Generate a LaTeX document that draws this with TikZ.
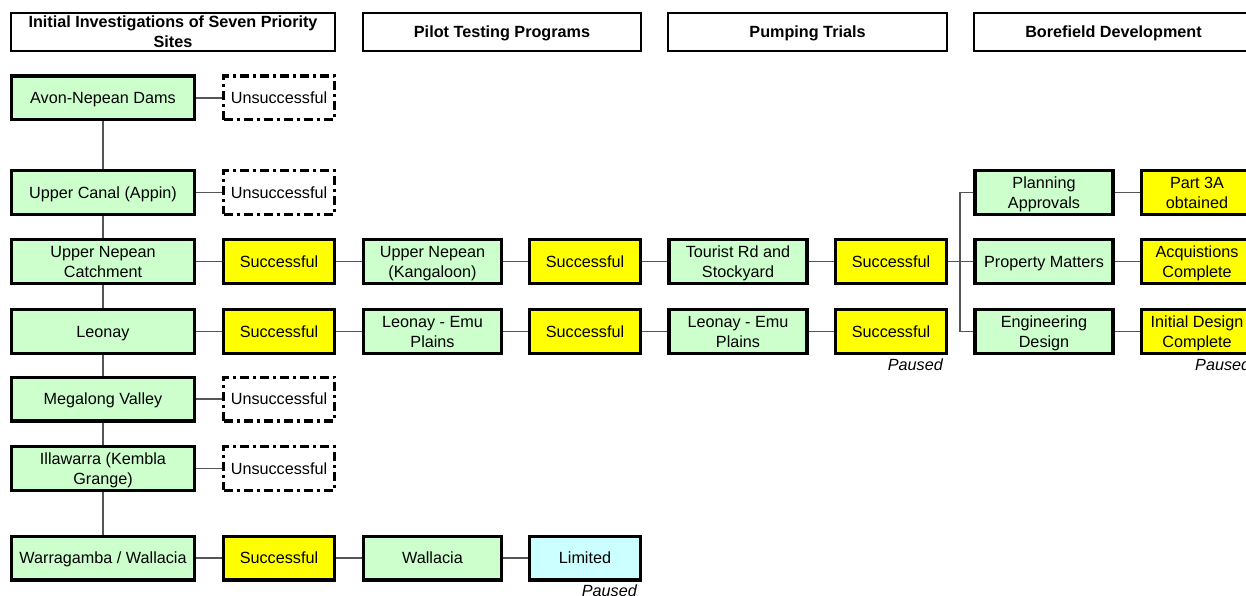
\documentclass[tikz,border=0pt]{standalone}
\usepackage{fontspec}
\setmainfont{Liberation Sans}
\definecolor{site_green}{RGB}{204, 255, 204}
\definecolor{ok_yellow}{RGB}{255, 255, 0}
\definecolor{lim_cyan}{RGB}{204, 255, 255}
\definecolor{link_grey}{RGB}{85, 85, 85}
\tikzstyle{box}=[rectangle,draw=black,line width=3.4pt,align=center,inner sep=2pt,
  font=\fontsize{16.2}{20}\selectfont,text depth=0pt,minimum height=43.6pt]
\tikzstyle{site}=[box,fill=site_green,minimum width=138pt]
\tikzstyle{wide}=[site,minimum width=182.6pt]
\tikzstyle{ok}=[box,fill=ok_yellow,minimum width=110.6pt]
\tikzstyle{lim}=[box,fill=lim_cyan,minimum width=110.6pt]
\tikzstyle{fail}=[box,fill=white,dash pattern=on 9pt off 4pt on 3pt off 4pt,
  minimum width=110.6pt]
\tikzstyle{hdr}=[rectangle,draw=black,line width=1.6pt,align=center,text depth=0pt,
  font=\bfseries\fontsize{16.2}{20}\selectfont,minimum height=38.4pt]
\tikzstyle{paused}=[font=\itshape\fontsize{16.2}{18}\selectfont,inner sep=0pt]
\tikzstyle{link}=[draw=link_grey,line width=1.1pt]

\begin{document}
\begin{tikzpicture}[x=1pt,y=-1pt]
    \useasboundingbox (0,0) rectangle (1246,596);
    % stage headings
    \node [style=hdr,minimum width=324.4pt] (h1) at (173,32) {Initial Investigations of Seven Priority\\Sites};
    \node [style=hdr,minimum width=278.4pt] (h2) at (502,32) {Pilot Testing Programs};
    \node [style=hdr,minimum width=279.4pt] (h3) at (807.5,32) {Pumping Trials};
    \node [style=hdr,minimum width=279.4pt] (h4) at (1113.5,32) {Borefield Development};
    % priority sites
    \node [style=wide] (avon) at (103,98) {Avon-Nepean Dams};
    \node [style=wide] (appin) at (103,192.5) {Upper Canal (Appin)};
    \node [style=wide] (upn) at (103,261.5) {Upper Nepean\\Catchment};
    \node [style=wide] (leo) at (103,331.5) {Leonay};
    \node [style=wide] (mega) at (103,399) {Megalong Valley};
    \node [style=wide] (illa) at (103,468.5) {Illawarra (Kembla\\Grange)};
    \node [style=wide] (warr) at (103,558) {Warragamba / Wallacia};
    % investigation results
    \node [style=fail] (avon1) at (279,98) {Unsuccessful};
    \node [style=fail] (appin1) at (279,192.5) {Unsuccessful};
    \node [style=ok] (upn1) at (279,261.5) {Successful};
    \node [style=ok] (leo1) at (279,331.5) {Successful};
    \node [style=fail] (mega1) at (279,399) {Unsuccessful};
    \node [style=fail] (illa1) at (279,468.5) {Unsuccessful};
    \node [style=ok] (warr1) at (279,558) {Successful};
    % pilot testing
    \node [style=site] (upn2) at (432.5,261.5) {Upper Nepean\\(Kangaloon)};
    \node [style=site] (leo2) at (432.5,331.5) {Leonay - Emu\\Plains};
    \node [style=site] (warr2) at (432.5,558) {Wallacia};
    \node [style=ok] (upn3) at (585,261.5) {Successful};
    \node [style=ok] (leo3) at (585,331.5) {Successful};
    \node [style=lim] (warr3) at (585,558) {Limited};
    % pumping trials
    \node [style=site] (upn4) at (738,261.5) {Tourist Rd and\\Stockyard};
    \node [style=site] (leo4) at (738,331.5) {Leonay - Emu\\Plains};
    \node [style=ok] (upn5) at (891,261.5) {Successful};
    \node [style=ok] (leo5) at (891,331.5) {Successful};
    % borefield development
    \node [style=site] (plan) at (1044,192.5) {Planning\\Approvals};
    \node [style=site] (prop) at (1044,261.5) {Property Matters};
    \node [style=site] (eng) at (1044,331.5) {Engineering\\Design};
    \node [style=ok] (plan1) at (1197,192.5) {Part 3A\\obtained};
    \node [style=ok] (prop1) at (1197,261.5) {Acquistions\\Complete};
    \node [style=ok] (eng1) at (1197,331.5) {Initial Design\\Complete};
    \coordinate (split) at (960,261.5);
    % paused notes
    \node [style=paused,anchor=east] (p1) at (943,365) {Paused};
    \node [style=paused,anchor=west] (p2) at (1195,365) {Paused};
    \node [style=paused,anchor=east] (p3) at (637,591) {Paused};
    % links
    \draw [style=link] (avon) to (appin);
    \draw [style=link] (appin) to (upn);
    \draw [style=link] (upn) to (leo);
    \draw [style=link] (leo) to (mega);
    \draw [style=link] (mega) to (illa);
    \draw [style=link] (illa) to (warr);
    \draw [style=link] (avon) to (avon1);
    \draw [style=link] (appin) to (appin1);
    \draw [style=link] (mega) to (mega1);
    \draw [style=link] (illa) to (illa1);
    \draw [style=link] (upn) -- (upn1) -- (upn2) -- (upn3) -- (upn4) -- (upn5) -- (prop);
    \draw [style=link] (leo) -- (leo1) -- (leo2) -- (leo3) -- (leo4) -- (leo5);
    \draw [style=link] (warr) -- (warr1) -- (warr2) -- (warr3);
    \draw [style=link] (split) |- (plan);
    \draw [style=link] (split) |- (eng);
    \draw [style=link] (plan) to (plan1);
    \draw [style=link] (prop) to (prop1);
    \draw [style=link] (eng) to (eng1);
  \end{tikzpicture}
\end{document}
